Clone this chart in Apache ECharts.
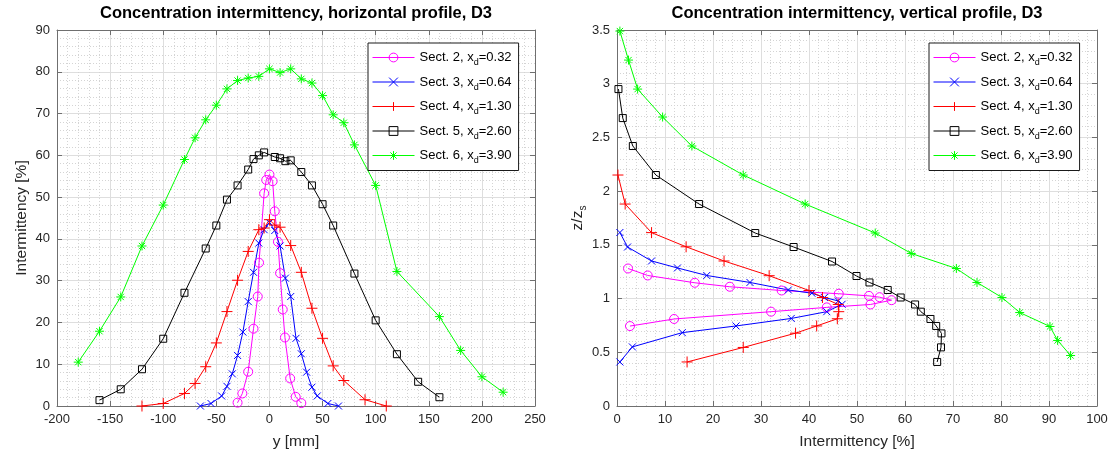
<!DOCTYPE html>
<html>
<head>
<meta charset="utf-8">
<script src="https://cdn.jsdelivr.net/npm/echarts@6/dist/echarts.min.js"></script>
<style>
  html, body { margin: 0; padding: 0; background: #ffffff; }
  #chart { width: 1115px; height: 457px; }
</style>
</head>
<body>
<div id="chart"></div>
<script>
// ---- Section labels ----
const sectNums = ['2', '3', '4', '5', '6'];
const xdVals = ['0.32', '0.64', '1.30', '2.60', '3.90'];

// ---- Horizontal profile: lateral position y [mm] and intermittency [%] ----
const hY2 = [-30, -25.5, -20, -15, -11, -9.8, -5, -3, 0, 3, 5, 8, 10, 12.5, 14.6, 19.5, 24.7, 30];
const hI2 = [0.8, 3.0, 8.2, 18.5, 26.2, 34.3, 50.9, 54.1, 55.4, 53.8, 46.6, 39.3, 31.8, 23.1, 16.4, 6.6, 2.2, 0.7];

const hY3 = [-65, -55, -45, -40, -35, -30, -25, -20, -15, -10, -5, 0, 5, 10, 15, 20, 25, 30, 35, 40, 45, 55, 65];
const hI3 = [0, 0.6, 2.4, 4.7, 7.7, 12.1, 17.7, 25.0, 32.0, 39.0, 42.2, 43.9, 42.0, 38.3, 30.6, 26.2, 16.2, 12.5, 8.1, 4.5, 2.4, 0.6, 0];

const hY4 = [-120, -100, -80, -70, -60, -50, -40, -30, -20, -10, -5, 0, 5, 10, 20, 30, 40, 50, 60, 70, 90, 110];
const hI4 = [0, 0.6, 3.0, 5.4, 9.4, 15.1, 22.6, 30.1, 37.0, 42.2, 42.6, 44.6, 43.3, 42.8, 38.4, 32.0, 23.4, 16.2, 9.6, 6.1, 1.5, 0];

const hY5 = [-160, -140, -120, -100, -80, -60, -50, -40, -30, -20, -15, -10, -5, 5, 10, 15, 20, 30, 40, 50, 60, 80, 100, 120, 140, 160];
const hI5 = [1.4, 4.0, 8.8, 16.1, 27.1, 37.7, 43.2, 49.4, 52.8, 56.6, 59.1, 60.0, 60.7, 59.6, 59.3, 58.6, 58.8, 56.0, 52.8, 48.3, 43.2, 31.7, 20.5, 12.4, 5.8, 2.1];

const hY6 = [-180, -160, -140, -120, -100, -80, -70, -60, -50, -40, -30, -20, -10, 0, 10, 20, 30, 40, 50, 60, 70, 80, 100, 120, 160, 180, 200, 220];
const hI6 = [10.5, 17.9, 26.1, 38.3, 48.1, 59.0, 64.2, 68.5, 72.0, 75.9, 77.9, 78.5, 78.9, 80.7, 79.8, 80.7, 78.3, 77.3, 74.3, 69.7, 67.8, 62.5, 52.8, 32.2, 21.4, 13.3, 7.0, 3.3];

// ---- Vertical profile: intermittency [%] and normalised height z/z_s ----
const vI2 = [2.3, 6.4, 16.2, 23.5, 34.3, 46.2, 52.5, 54.7, 57.2, 52.8, 43.7, 32.1, 11.9, 2.7];
const vZ2 = [1.28, 1.215, 1.147, 1.11, 1.075, 1.045, 1.025, 1.013, 0.985, 0.945, 0.918, 0.878, 0.81, 0.744];

const vI3 = [0.6, 3.2, 13.6, 24.8, 36.3, 43.7, 46.9, 46.1, 43.2, 40.6, 35.7, 27.7, 18.7, 12.6, 7.2, 2.2, 0.6];
const vZ3 = [0.41, 0.55, 0.683, 0.745, 0.815, 0.878, 0.947, 0.978, 1.01, 1.05, 1.08, 1.15, 1.215, 1.285, 1.35, 1.48, 1.615];

const vI4 = [14.6, 26.3, 37.2, 41.6, 45.9, 46.2, 46.1, 42.8, 40.0, 31.7, 22.3, 14.4, 7.2, 1.7, 0.2];
const vZ4 = [0.41, 0.545, 0.678, 0.745, 0.812, 0.878, 0.945, 1.01, 1.075, 1.213, 1.35, 1.482, 1.614, 1.88, 2.15];

const vI5 = [66.7, 67.5, 67.6, 66.5, 65.3, 63.3, 62.1, 59.1, 56.4, 52.6, 49.9, 44.8, 36.8, 28.8, 17.1, 8.1, 3.3, 1.2, 0.3];
const vZ5 = [0.41, 0.546, 0.676, 0.745, 0.81, 0.878, 0.945, 1.01, 1.08, 1.15, 1.21, 1.345, 1.48, 1.61, 1.88, 2.15, 2.42, 2.68, 2.95];

const vI6 = [94.5, 91.8, 90.2, 83.9, 80.2, 75.0, 70.7, 61.3, 53.8, 39.2, 26.3, 15.6, 9.5, 4.3, 2.4, 0.6];
const vZ6 = [0.47, 0.61, 0.74, 0.87, 1.01, 1.15, 1.28, 1.42, 1.61, 1.88, 2.15, 2.42, 2.69, 2.95, 3.22, 3.49];

// ---- Styling ----
const FONT = 'Liberation Sans, Arial, Helvetica, sans-serif';
const lineColors = ['#ff00ff', '#0000ff', '#ff0000', '#000000', '#00ff00'];
const markerShapes = [
  'circle',
  'path://M0,0L10,10M0,10L10,0',
  'path://M5,0L5,10M0,5L10,5',
  'rect',
  'path://M5,0L5,10M0,5L10,5M1.5,1.5L8.5,8.5M1.5,8.5L8.5,1.5'
];
const markerSizes = [9, 7, 11, 7, 9];
const frameColor = '#6f6f6f';
const tickLabelColor = '#262626';
const majorGrid = '#dedede';
const minorGrid = '#d4d4d4';

const names = sectNums.map((n, i) => 'Sect. ' + n + ', x_d=' + xdVals[i]);
const hX = [hY2, hY3, hY4, hY5, hY6];
const hV = [hI2, hI3, hI4, hI5, hI6];
const vX = [vI2, vI3, vI4, vI5, vI6];
const vV = [vZ2, vZ3, vZ4, vZ5, vZ6];

function pairs(xs, ys) { return xs.map((x, i) => [x, ys[i]]); }

function mainAxis(extra) {
  return Object.assign({
    type: 'value',
    axisLine: { show: true, onZero: false, lineStyle: { color: frameColor, width: 1 } },
    axisTick: { show: true, inside: true, length: 5, lineStyle: { color: frameColor } },
    axisLabel: { color: tickLabelColor, fontSize: 13, fontFamily: FONT, margin: 7 },
    splitLine: { show: true, lineStyle: { color: majorGrid, width: 1 } },
    minorTick: { show: false, splitNumber: 5 },
    minorSplitLine: { show: true, lineStyle: { color: minorGrid, width: 1, type: [1, 2] } },
    nameLocation: 'middle',
    nameTextStyle: { color: tickLabelColor, fontSize: 15.5, fontFamily: FONT }
  }, extra);
}
function frameAxis(extra) {
  return Object.assign({
    type: 'value',
    axisLine: { show: true, onZero: false, lineStyle: { color: frameColor, width: 1 } },
    axisTick: { show: true, inside: true, length: 5, lineStyle: { color: frameColor } },
    axisLabel: { show: false },
    splitLine: { show: false }
  }, extra);
}

const legendRich = {
  t: { fontSize: 13, fontFamily: FONT, color: '#000', lineHeight: 20, verticalAlign: 'middle' },
  s: { fontSize: 9, fontFamily: FONT, color: '#000', lineHeight: 10, verticalAlign: 'bottom' }
};
function legendFmt(name) {
  const parts = name.split('_d');
  return '{t|' + parts[0] + '}{s|d}{t|' + parts[1] + '}';
}
// each legend entry carries its own thin line and hollow marker style
const legendItems = names.map((n, k) => ({
  name: n,
  lineStyle: { color: lineColors[k], width: 1 },
  itemStyle: { color: 'rgba(0,0,0,0)', borderColor: lineColors[k], borderWidth: 1 }
}));
function legendAt(left) {
  return {
    data: legendItems, orient: 'vertical', left: left, top: 43,
    padding: [8, 7, 5, 4], itemWidth: 42, itemHeight: 11, itemGap: 8,
    backgroundColor: '#ffffff', borderColor: '#1a1a1a', borderWidth: 1, borderRadius: 0,
    formatter: legendFmt, selectedMode: false,
    textStyle: { rich: legendRich }
  };
}

const series = [];
for (let k = 0; k < 5; k++) {
  const common = {
    type: 'line', name: names[k], symbol: markerShapes[k], symbolSize: markerSizes[k],
    showAllSymbol: true, clip: false, animation: false, silent: true,
    lineStyle: { color: lineColors[k], width: 1 },
    itemStyle: { color: 'rgba(0,0,0,0)', borderColor: lineColors[k], borderWidth: 1 },
    emphasis: { disabled: true }
  };
  series.push(Object.assign({}, common, { xAxisIndex: 0, yAxisIndex: 0, data: pairs(hX[k], hV[k]) }));
  series.push(Object.assign({}, common, { xAxisIndex: 2, yAxisIndex: 2, data: pairs(vX[k], vV[k]) }));
}

const chart = echarts.init(document.getElementById('chart'), null, { renderer: 'canvas' });
chart.setOption({
  animation: false,
  backgroundColor: '#ffffff',
  title: [
    { text: 'Concentration intermittency, horizontal profile, D3', left: 296, top: 5, padding: 0, textAlign: 'center',
      textStyle: { fontSize: 16.5, fontWeight: 'bold', fontFamily: FONT, color: '#000' } },
    { text: 'Concentration intermittency, vertical profile, D3', left: 857, top: 5, padding: 0, textAlign: 'center',
      textStyle: { fontSize: 16.5, fontWeight: 'bold', fontFamily: FONT, color: '#000' } }
  ],
  grid: [
    { left: 57, right: 580, top: 30, bottom: 51, containLabel: false, outerBoundsMode: 'none' },
    { left: 617, right: 18, top: 30, bottom: 51, containLabel: false, outerBoundsMode: 'none' }
  ],
  xAxis: [
    mainAxis({ gridIndex: 0, position: 'bottom', min: -200, max: 250, interval: 50, name: 'y [mm]', nameGap: 28 }),
    frameAxis({ gridIndex: 0, position: 'top', min: -200, max: 250, interval: 50 }),
    mainAxis({ gridIndex: 1, position: 'bottom', min: 0, max: 100, interval: 10, name: 'Intermittency [%]', nameGap: 28 }),
    frameAxis({ gridIndex: 1, position: 'top', min: 0, max: 100, interval: 10 })
  ],
  yAxis: [
    mainAxis({ gridIndex: 0, position: 'left', min: 0, max: 90, interval: 10, name: 'Intermittency [%]', nameGap: 27, nameRotate: 90 }),
    frameAxis({ gridIndex: 0, position: 'right', min: 0, max: 90, interval: 10 }),
    mainAxis({ gridIndex: 1, position: 'left', min: 0, max: 3.5, interval: 0.5, name: '{a|z/z}{b|s}', nameGap: 25, nameRotate: 90,
      nameTextStyle: { rich: {
        a: { fontSize: 15.5, fontFamily: FONT, color: tickLabelColor, lineHeight: 20, verticalAlign: 'middle' },
        b: { fontSize: 10, fontFamily: FONT, color: tickLabelColor, lineHeight: 10, verticalAlign: 'bottom' }
      } } }),
    frameAxis({ gridIndex: 1, position: 'right', min: 0, max: 3.5, interval: 0.5 })
  ],
  legend: [legendAt(368), legendAt(929)],
  series: series
});
</script>
</body>
</html>
